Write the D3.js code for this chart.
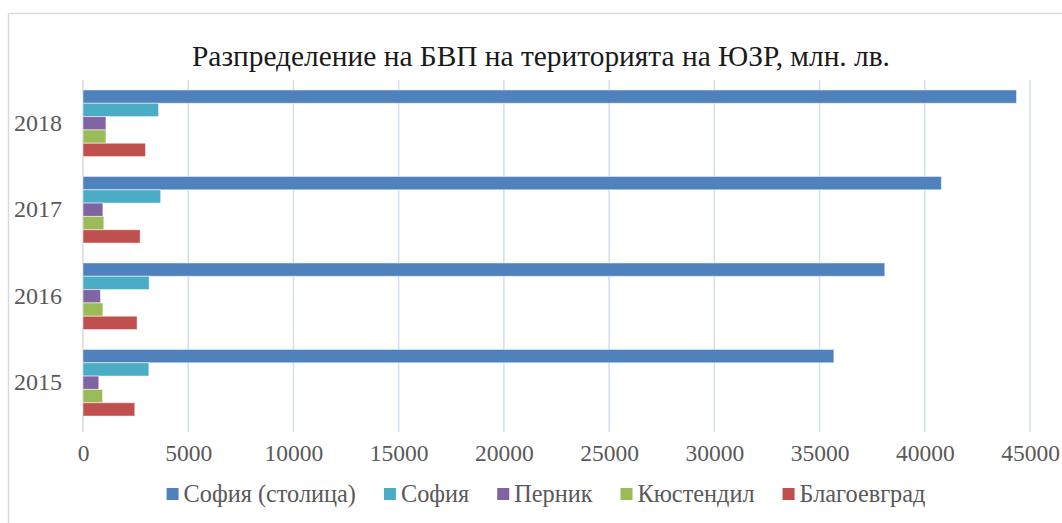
<!DOCTYPE html>
<html><head><meta charset="utf-8">
<script src="https://cdn.jsdelivr.net/npm/d3@7"></script>
<style>body{margin:0;background:#fff;} svg{display:block;}</style>
</head><body>
<svg id="c" width="1062" height="523"></svg>
<script>
const years = ["2018","2017","2016","2015"];
const seriesNames = ["София (столица)","София","Перник","Кюстендил","Благоевград"];
const seriesColors = ["#4f81bd","#4bacc6","#8064a2","#9bbb59","#c0504d"];
const sofiaCapital = [44360, 40790, 38100, 35680];
const sofiaProvince = [3590, 3690, 3145, 3130];
const pernik = [1090, 945, 830, 750];
const kyustendil = [1090, 990, 945, 930];
const blagoevgrad = [2970, 2715, 2570, 2460];
const xTicks = [0,5000,10000,15000,20000,25000,30000,35000,40000,45000];
const title = "Разпределение на БВП на територията на ЮЗР, млн. лв.";

const seriesValues = [sofiaCapital, sofiaProvince, pernik, kyustendil, blagoevgrad];
const svg = d3.select("#c");
const font = "'Liberation Serif','Times New Roman',serif";

// chart border
svg.append("rect").attr("x",8.5).attr("y",13.5).attr("width",1062).attr("height",540)
  .attr("fill","#fff").attr("stroke","#d9d9d9").attr("stroke-width",1.5);

const pL=83, pR=1030, pT=80, pB=426;
const x = d3.scaleLinear().domain([0,45000]).range([pL,pR]);
const y0 = d3.scaleBand().domain(years).range([pT,pB]).paddingInner(0.23).paddingOuter(0.115);
const y1 = d3.scaleBand().domain(seriesNames).range([0,y0.bandwidth()]);

// gridlines
svg.append("g").selectAll("line").data(xTicks.slice(1)).join("line")
  .attr("x1",d=>x(d)).attr("x2",d=>x(d)).attr("y1",pT).attr("y2",pB+6)
  .attr("stroke","#d3deee").attr("stroke-width",1.5);
// y axis line
svg.append("line").attr("x1",pL).attr("x2",pL).attr("y1",pT).attr("y2",pB+6)
  .attr("stroke","#d9d9d9").attr("stroke-width",1.5);

// bars
const g = svg.append("g");
years.forEach((yr,i)=>{
  seriesNames.forEach((s,j)=>{
    g.append("rect")
      .attr("x",x(0)).attr("y",y0(yr)+y1(s))
      .attr("width",x(seriesValues[j][i])-x(0)).attr("height",y1.bandwidth())
      .attr("fill",seriesColors[j]).attr("stroke","#ffffff").attr("stroke-opacity",0.5).attr("stroke-width",1);
  });
});

// x axis labels
const xAxis = d3.axisBottom(x).tickValues(xTicks).tickSize(0).tickPadding(0).tickFormat(d3.format("d"));
const xg = svg.append("g").attr("transform",`translate(0,${pB})`).call(xAxis);
xg.select(".domain").remove();
xg.selectAll("text").attr("dy",null).attr("y",35).attr("font-family",font).attr("font-size",23.5).attr("fill","#595959");

// y axis labels
const yAxis = d3.axisLeft(y0).tickSize(0).tickPadding(21);
const yg = svg.append("g").attr("transform",`translate(${pL},0)`).call(yAxis);
yg.select(".domain").remove();
yg.selectAll("text").attr("font-family",font).attr("font-size",24).attr("fill","#595959");

// title
svg.append("text").attr("x",541).attr("y",66).attr("text-anchor","middle")
  .attr("font-family",font).attr("font-size",29.4).attr("fill","#1a1a1a").text(title);

// legend
const lg = svg.append("g");
let cx = 0;
const gap = 28;
seriesNames.forEach((s,j)=>{
  const it = lg.append("g").attr("transform",`translate(${cx},0)`);
  it.append("rect").attr("x",0).attr("y",-6).attr("width",12).attr("height",12).attr("fill",seriesColors[j]);
  const t = it.append("text").attr("x",17).attr("y",8).attr("font-family",font).attr("font-size",24.3).attr("fill","#595959").text(s);
  const w = t.node().getComputedTextLength();
  cx += 17 + w + gap;
});
const totalW = cx - gap;
lg.attr("transform",`translate(${546 - totalW/2},494)`);
</script>
</body></html>
